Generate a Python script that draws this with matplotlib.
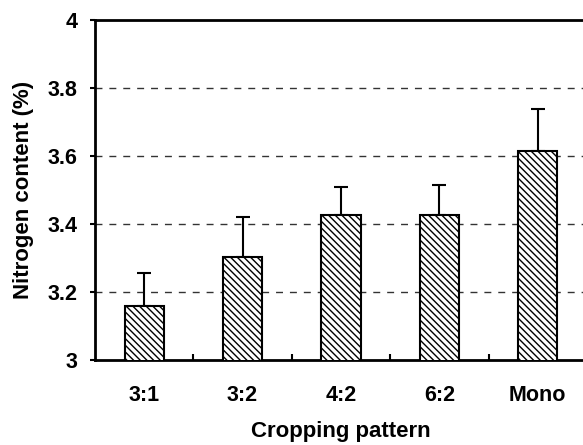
import matplotlib.pyplot as plt
import numpy as np

patterns = ['3:1', '3:2', '4:2', '6:2', 'Mono']
nitrogen = [3.158, 3.302, 3.427, 3.427, 3.615]
err_up = [0.098, 0.118, 0.083, 0.087, 0.122]
y_ticks = [3, 3.2, 3.4, 3.6, 3.8, 4]
y_tick_labels = ['3', '3.2', '3.4', '3.6', '3.8', '4']

plt.rcParams['font.family'] = ['Liberation Sans', 'DejaVu Sans']
plt.rcParams['font.weight'] = 'bold'
plt.rcParams['hatch.linewidth'] = 1.0

fig = plt.figure(figsize=(5.83, 4.45), dpi=100)
ax = fig.add_axes([95 / 583, 1 - 360 / 445, 492 / 583, 340 / 445])

x = np.arange(len(patterns))
ax.bar(x, nitrogen, width=0.4, color='white', edgecolor='black', linewidth=1.5,
       hatch='\\\\\\\\\\', zorder=3)
ax.errorbar(x, nitrogen, yerr=[np.zeros(len(x)), err_up], fmt='none', ecolor='black',
            elinewidth=1.5, capsize=5, capthick=1.5, zorder=2)

# dashed reference lines
for yv in y_ticks[1:-1]:
    ax.axhline(yv, color='#333333', linestyle=(0, (5, 5)), linewidth=1, zorder=1)

ax.set_xlim(-0.5, 4.5)
ax.set_ylim(3, 4)
ax.set_yticks(y_ticks)
ax.set_yticklabels(y_tick_labels, fontsize=15.5, fontweight='bold')
ax.set_xticks(x)
ax.set_xticklabels(patterns, fontsize=15.5, fontweight='bold')
ax.set_xticks(x[:-1] + 0.5, minor=True)
ax.tick_params(axis='x', which='major', length=0, pad=18)
ax.tick_params(axis='x', which='minor', direction='in', length=4.5, width=1.5)
ax.tick_params(axis='y', direction='out', length=3.6, width=1.5, pad=9)

for s in ['left', 'bottom', 'top', 'right']:
    ax.spines[s].set_linewidth(2)

ax.set_xlabel('Cropping pattern', fontsize=16, fontweight='bold', labelpad=11)
ax.set_ylabel('Nitrogen content (%)', fontsize=16, fontweight='bold', labelpad=10)

fig.savefig('out.png', dpi=100)
